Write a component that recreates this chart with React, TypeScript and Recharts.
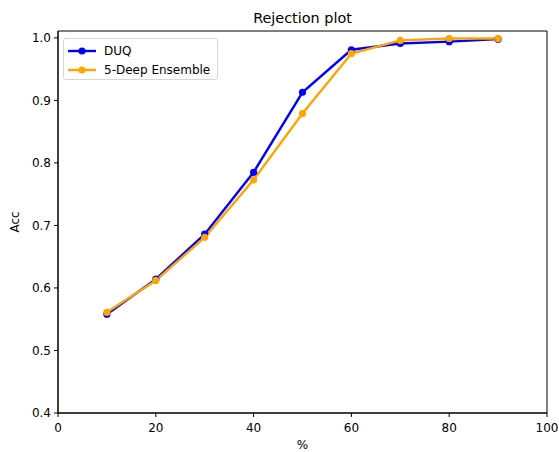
import React from 'react';
import { LineChart, Line, XAxis, YAxis, ReferenceArea, Legend } from 'recharts';

const percents = [10, 20, 30, 40, 50, 60, 70, 80, 90];
const duqAcc = [0.558, 0.614, 0.686, 0.785, 0.913, 0.981, 0.991, 0.994, 0.998];
const ensembleAcc = [0.561, 0.612, 0.681, 0.773, 0.879, 0.975, 0.996, 0.999, 0.999];
const xTicks = [0, 20, 40, 60, 80, 100];
const yTicks = [0.4, 0.5, 0.6, 0.7, 0.8, 0.9, 1.0];

const data = percents.map((p, i) => ({ p, duq: duqAcc[i], ens: ensembleAcc[i] }));

const FONT = '"DejaVu Sans", sans-serif';
const BLUE = '#0000ff';
const ORANGE = '#ffa500';

const LegendBox = () => {
  const items = [
    { label: 'DUQ', color: BLUE },
    { label: '5-Deep Ensemble', color: ORANGE },
  ];
  return (
    <div
      style={{
        width: 155,
        height: 42,
        boxSizing: 'border-box',
        border: '1px solid #d6d6d6',
        borderRadius: 3,
        background: 'rgba(255,255,255,0.8)',
        fontFamily: FONT,
        fontSize: 12,
        color: '#000',
        paddingTop: 2,
      }}
    >
      {items.map((it) => (
        <div key={it.label} style={{ display: 'flex', alignItems: 'center', height: 19 }}>
          <svg width={36} height={12} style={{ marginLeft: 3 }}>
            <line x1={1} y1={6} x2={29} y2={6} stroke={it.color} strokeWidth={2.4} />
            <circle cx={15} cy={6} r={3.6} fill={it.color} />
          </svg>
          <span style={{ marginLeft: 1 }}>{it.label}</span>
        </div>
      ))}
    </div>
  );
};

export default function App() {
  return (
    <div style={{ position: 'absolute', left: 0, top: 0, width: 559, height: 452, background: '#fff' }}>
      <div
        style={{
          position: 'absolute',
          left: 58,
          width: 489,
          top: 10,
          textAlign: 'center',
          fontFamily: FONT,
          fontSize: 14.4,
          lineHeight: '17px',
          color: '#000',
          zIndex: 2,
        }}
      >
        Rejection plot
      </div>
      <LineChart
        width={559}
        height={452}
        data={data}
        margin={{ top: 31, right: 12, left: 0, bottom: 0 }}
      >
        <XAxis
          dataKey="p"
          type="number"
          domain={[0, 100]}
          ticks={xTicks}
          height={39}
          tickSize={4}
          tickMargin={6}
          stroke="#000"
          tick={{ fill: '#000', fontSize: 12, fontFamily: FONT }}
          label={{ value: '%', position: 'insideBottom', offset: 3, fill: '#000', fontSize: 12, fontFamily: FONT }}
        />
        <YAxis
          type="number"
          domain={[0.4, 1.011]}
          ticks={yTicks}
          width={58}
          tickSize={4}
          tickMargin={3}
          stroke="#000"
          allowDataOverflow
          tickFormatter={(v: number) => v.toFixed(1)}
          tick={{ fill: '#000', fontSize: 12, fontFamily: FONT }}
          label={{
            value: 'Acc',
            angle: -90,
            position: 'insideLeft',
            offset: 15,
            fill: '#000',
            fontSize: 12,
            fontFamily: FONT,
            style: { textAnchor: 'middle' },
          }}
        />
        <ReferenceArea x1={0} x2={100} y1={0.4} y2={1.011} fill="none" stroke="#000" strokeWidth={1} />
        <Line
          dataKey="duq"
          name="DUQ"
          stroke={BLUE}
          strokeWidth={2.4}
          dot={{ r: 3.6, fill: BLUE, stroke: BLUE, strokeWidth: 0 }}
          isAnimationActive={false}
        />
        <Line
          dataKey="ens"
          name="5-Deep Ensemble"
          stroke={ORANGE}
          strokeWidth={2.4}
          dot={{ r: 3.6, fill: ORANGE, stroke: ORANGE, strokeWidth: 0 }}
          isAnimationActive={false}
        />
        <Legend
          layout="vertical"
          align="center"
          verticalAlign="middle"
          content={<LegendBox />}
          wrapperStyle={{ left: 63, top: 38, width: 155, height: 42 }}
        />
      </LineChart>
    </div>
  );
}
